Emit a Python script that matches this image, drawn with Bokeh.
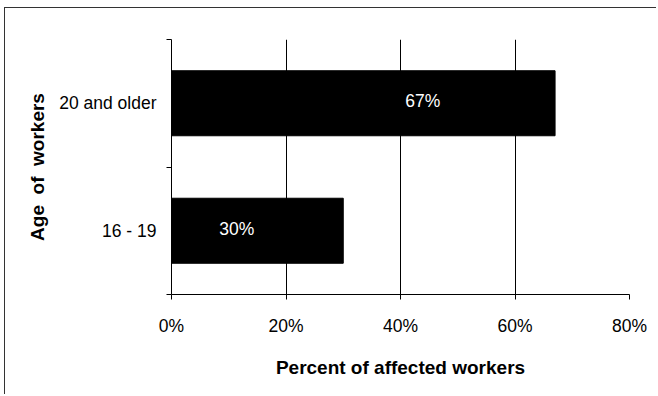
from bokeh.plotting import figure
from bokeh.models import FixedTicker, Label
from bokeh.embed import file_html
from bokeh.resources import INLINE

# Share of affected workers by age group
categories = ["16 - 19", "20 and older"]
percent = [30, 67]
x_ticks = [0, 20, 40, 60, 80]

# where each value label sits along its bar (percent axis units)
label_x = [11.4, 43.9]

FONT = "'Liberation Sans', Arial, sans-serif"
NBSP = "\u00a0"

p = figure(
    width=652, height=387,
    x_range=(0, 80), y_range=(0, len(categories)),
    output_backend="svg", toolbar_location=None,
    min_border_left=166, min_border_right=28,
    min_border_top=31, min_border_bottom=101,
    margin=(7, 0, 0, 4),
    styles={"border-top": "1.5px solid #333333",
            "border-left": "1.5px solid #333333"},
)
p.outline_line_color = None
p.background_fill_color = "white"
p.border_fill_color = "white"

y_centers = [i + 0.5 for i in range(len(categories))]
p.hbar(y=y_centers, right=percent, left=0, height=0.51,
       fill_color="black", line_color="black")

for x, y, v in zip(label_x, y_centers, percent):
    p.add_layout(Label(x=x, y=y, text=f"{v}%", text_color="white",
                       text_font=FONT, text_font_size="17.5px",
                       text_align="center", text_baseline="middle",
                       y_offset=2))

# x axis: percent scale
xa = p.xaxis[0]
xa.ticker = FixedTicker(ticks=x_ticks)
xa.major_label_overrides = {t: f"{t}%" for t in x_ticks}
xa.major_tick_out = 5
xa.major_tick_in = 0
xa.minor_tick_out = 0
xa.minor_tick_in = 0
xa.axis_line_color = "black"
xa.major_tick_line_color = "black"
xa.major_label_text_font = FONT
xa.major_label_text_font_size = "17.5px"
xa.major_label_text_color = "black"
xa.major_label_standoff = 16
xa.axis_label = "Percent of affected workers"
xa.axis_label_text_font = FONT
xa.axis_label_text_font_style = "bold"
xa.axis_label_text_font_size = "19px"
xa.axis_label_text_color = "black"
xa.axis_label_standoff = 18

# y axis: category labels with ticks on the band boundaries
ya = p.yaxis[0]
ya.ticker = FixedTicker(ticks=y_centers,
                        minor_ticks=list(range(len(categories) + 1)))
ya.major_label_overrides = {c: lab for c, lab in zip(y_centers, categories)}
ya.major_tick_out = 0
ya.major_tick_in = 0
ya.minor_tick_out = 5
ya.minor_tick_in = 0
ya.minor_tick_line_color = "black"
ya.axis_line_color = "black"
ya.major_label_text_font = FONT
ya.major_label_text_font_size = "17.5px"
ya.major_label_text_color = "black"
ya.major_label_standoff = 10
ya.axis_label = f"Age{NBSP}{NBSP}of{NBSP}{NBSP}workers"
ya.axis_label_text_font = FONT
ya.axis_label_text_font_style = "bold"
ya.axis_label_text_font_size = "19px"
ya.axis_label_text_color = "black"
ya.axis_label_standoff = 8

p.xgrid.ticker = FixedTicker(ticks=x_ticks)
p.xgrid.grid_line_color = "black"
p.xgrid.grid_line_width = 1
p.ygrid.grid_line_color = None

open("out.html", "w").write(file_html(p, INLINE))
